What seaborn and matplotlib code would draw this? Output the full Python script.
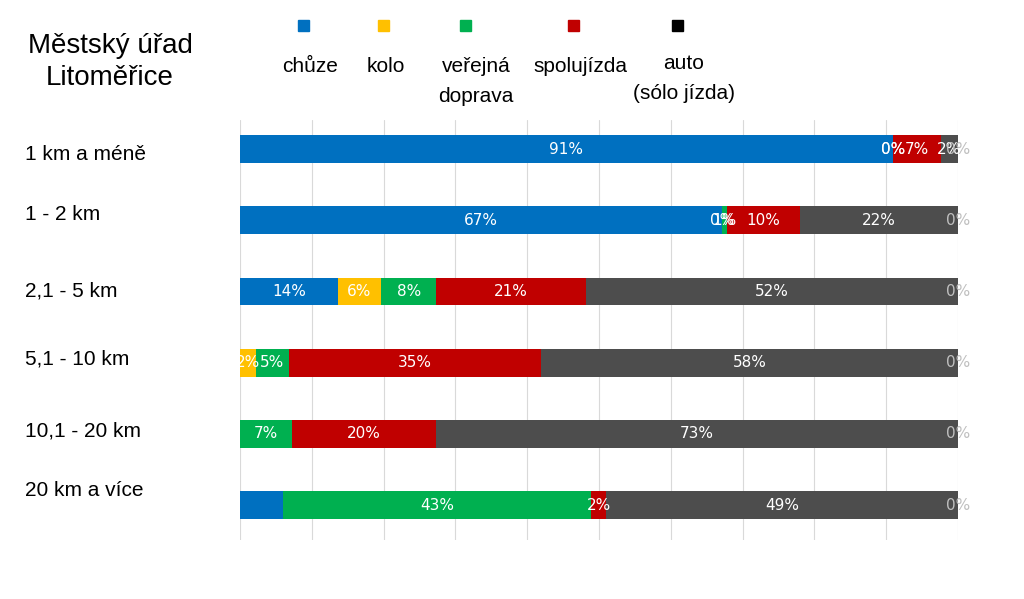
import matplotlib.pyplot as plt
from matplotlib.patches import Rectangle
from matplotlib.transforms import ScaledTranslation
import seaborn as sns
import numpy as np
import pandas as pd

# kategorie vzdálenosti
vzdalenost = ["1 km a méně", "1 - 2 km", "2,1 - 5 km", "5,1 - 10 km", "10,1 - 20 km", "20 km a více"]

# podíly (%)
chuze = [90.9, 67.1, 13.6, 0.0, 0.0, 6.0]
kolo = [0.0, 0.0, 6.1, 2.2, 0.0, 0.0]
verejna = [0.0, 0.7, 7.6, 4.6, 7.2, 42.9]
spolujizda = [6.7, 10.2, 20.9, 35.1, 20.1, 2.1]
auto = [2.4, 22.0, 51.8, 58.1, 72.7, 49.0]
ostatni = [0.0, 0.0, 0.0, 0.0, 0.0, 0.0]

# popisky dat tak jak jsou v grafu ("" = nezobrazeno)
lab_chuze = ["91%", "67%", "14%", "", "", ""]
lab_kolo = ["0%", "0%", "6%", "2%", "", ""]
lab_verejna = ["0%", "1%", "8%", "5%", "7%", "43%"]
lab_spolujizda = ["7%", "10%", "21%", "35%", "20%", "2%"]
lab_auto = ["2%", "22%", "52%", "58%", "73%", "49%"]
lab_ostatni = ["0%", "0%", "0%", "0%", "0%", "0%"]

legenda = ["chůze", "kolo", "veřejná\ndoprava", "spolujízda", "auto\n(sólo jízda)"]
barvy = ["#0070C0", "#FFC000", "#00B050", "#C00000", "#4D4D4D", "#4D4D4D"]
barvy_legenda = ["#0070C0", "#FFC000", "#00B050", "#C00000", "#000000"]

serie = [chuze, kolo, verejna, spolujizda, auto, ostatni]
popisky = [lab_chuze, lab_kolo, lab_verejna, lab_spolujizda, lab_auto, lab_ostatni]

df = pd.DataFrame(np.array(serie).T, index=vzdalenost)
kum = df.cumsum(axis=1)

sns.set_style("white")
plt.rcParams['font.family'] = ['Liberation Sans', 'DejaVu Sans']
plt.rcParams['text.color'] = 'black'

fig = plt.figure(figsize=(10.24, 5.99), dpi=100)
ax = fig.add_axes([240 / 1024, 1 - 540 / 599, 718 / 1024, 420 / 599])

# skládané pruhy: kreslíme kumulativní součty od konce
for i in reversed(range(len(serie))):
    sns.barplot(x=kum[i].values, y=vzdalenost, orient="h", color=barvy[i],
                saturation=1, width=0.39, linewidth=0, ax=ax, zorder=2)

# popisky dat
for i in range(len(serie)):
    stred = kum[i].values - df[i].values / 2
    for j in range(len(vzdalenost)):
        if popisky[i][j] == "":
            continue
        barva_txt = "#BFBFBF" if i == 5 else "white"
        ax.text(stred[j], j, popisky[i][j], ha="center", va="center",
                color=barva_txt, fontsize=11, zorder=3,
                family=['Liberation Sans Narrow', 'DejaVu Sans'])

ax.set_xlim(0, 100)
ax.set_ylim(5.49, -0.41)
ax.set_xticks(np.arange(0, 101, 10))
ax.grid(axis="x", color="#D9D9D9", linewidth=0.8, zorder=0)
ax.set_axisbelow(True)
ax.tick_params(axis="x", length=0, labelbottom=False)
ax.tick_params(axis="y", length=0, pad=155, labelsize=15, labelcolor="black")
# popisky řádků nejsou přesně u středu pruhů
posun_px = [3, -8, -3, -6, -5, -17]
for t, p in zip(ax.get_yticklabels(), posun_px):
    t.set_horizontalalignment("left")
    t.set_transform(t.get_transform() + ScaledTranslation(0, -p / 100, fig.dpi_scale_trans))
sns.despine(ax=ax, left=True, bottom=True)
ax.set_xlabel("")
ax.set_ylabel("")

# titul
fig.text(110 / 1024, 1 - 62 / 599, "Městský úřad\nLitoměřice", ha="center", va="center",
         fontsize=20, linespacing=1.3)

# legenda: čtverečky nad popisky
leg_x_ctv = [303, 383, 465, 573, 677]
leg_x_txt = [310, 386, 476, 580, 684]
for k in range(len(legenda)):
    fig.patches.append(Rectangle(((leg_x_ctv[k] - 5) / 1024, 1 - 31 / 599), 11 / 1024, 11 / 599,
                                 transform=fig.transFigure, color=barvy_legenda[k]))
    fig.text(leg_x_txt[k] / 1024, 1 - (57 if k != 4 else 54) / 599, legenda[k],
             ha="center", va="top", fontsize=15, linespacing=1.75)

fig.savefig("out.png", dpi=100)
